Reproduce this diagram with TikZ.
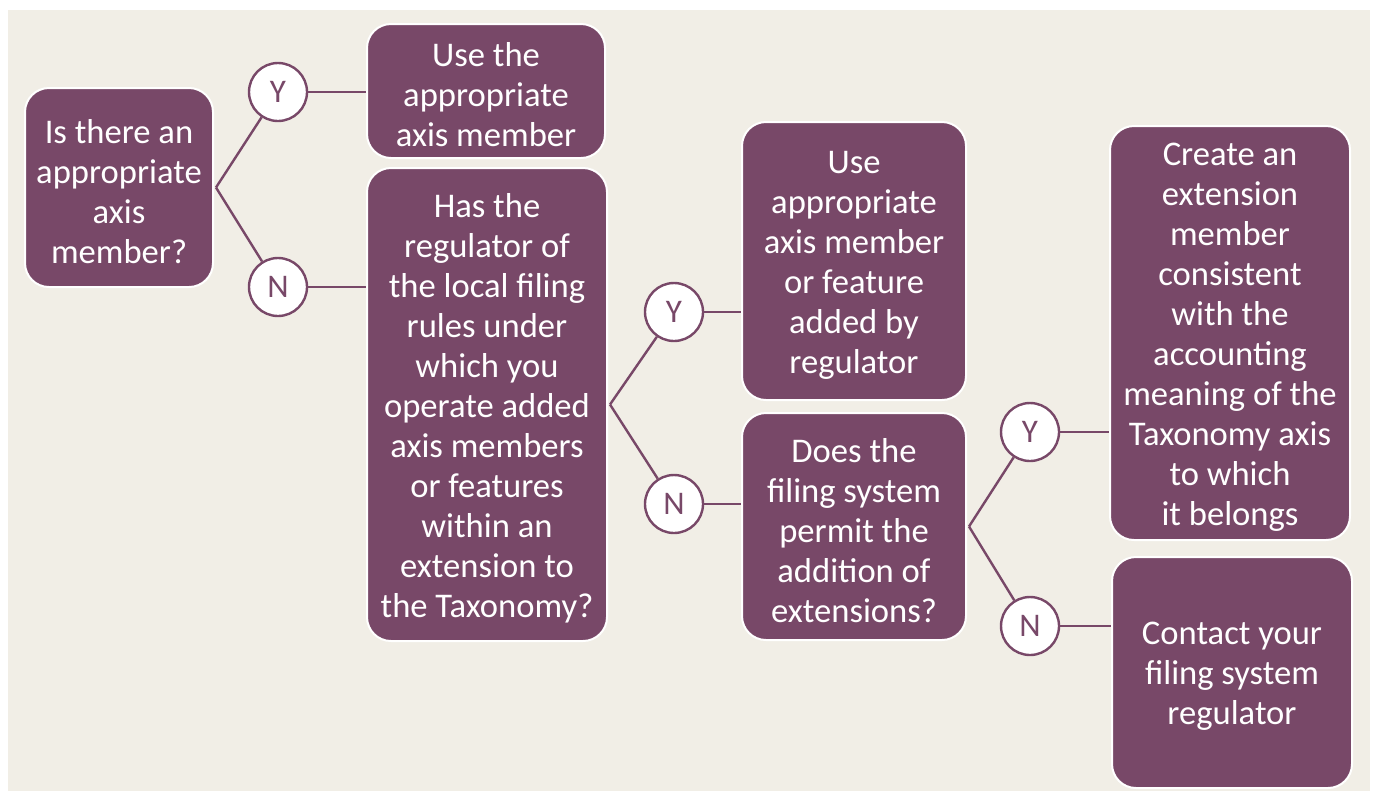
\documentclass[tikz,border=0pt]{standalone}
\usepackage{fontspec}
\setmainfont{Carlito}
\definecolor{bgc}{HTML}{F1EEE6}
\definecolor{plum}{HTML}{784868}
\tikzset{
  qbox/.style={draw=white, line width=1pt, fill=plum, rounded corners=12pt,
    inner sep=0pt},
  qtext/.style={text=white, align=center, inner sep=0pt,
    font=\fontsize{17.3}{20}\selectfont},
  yn/.style={circle, draw=plum, line width=1.2pt, fill=white, text=plum,
    minimum size=29pt, inner sep=0pt, font=\fontsize{16.5}{19}\selectfont},
  link/.style={draw=plum, line width=1.2pt}
}
\begin{document}
\begin{tikzpicture}[x=0.5pt,y=-0.5pt]
\useasboundingbox (0,0) rectangle (1375,794);
\fill[bgc] (8,10) rectangle (1370,791);
\node[qbox, minimum width=94pt, minimum height=99.5pt] (b1) at (119,187.5) {};
\node[qtext] (t1) at ([yshift=-2pt]b1.center)
  {Is there an\\appropriate\\axis\\member?};
\node[qbox, minimum width=119pt, minimum height=67pt] (b2) at (486,91) {};
\node[qtext] (t2) at ([yshift=-2pt]b2.center)
  {Use the\\appropriate\\axis member};
\node[qbox, minimum width=120pt, minimum height=236.5pt] (b3) at (487,404.5) {};
\node[qtext] (t3) at ([yshift=-2pt]b3.center)
  {Has the\\regulator of\\the local filing\\rules under\\which you\\operate added\\axis members\\or features\\within an\\extension to\\the Taxonomy?};
\node[qbox, minimum width=112pt, minimum height=139pt] (b4) at (854,261) {};
\node[qtext] (t4) at ([yshift=-2pt]b4.center)
  {Use\\appropriate\\axis member\\or feature\\added by\\regulator};
\node[qbox, minimum width=112pt, minimum height=113.5pt] (b5) at (854,526.5) {};
\node[qtext] (t5) at ([yshift=-2pt]b5.center)
  {Does the\\filing system\\permit the\\addition of\\extensions?};
\node[qbox, minimum width=120pt, minimum height=207pt] (b6) at (1230,333) {};
\node[qtext] (t6) at ([yshift=-2pt]b6.center)
  {Create an\\extension\\member\\consistent\\with the\\accounting\\meaning of the\\Taxonomy axis\\to which\\it belongs};
\node[qbox, minimum width=120pt, minimum height=115.5pt] (b7) at (1232,672.5) {};
\node[qtext] (t7) at ([yshift=-2pt]b7.center)
  {Contact your\\filing system\\regulator};
\node[yn] (y1) at (278,92) {Y};
\node[yn] (n1) at (278,287) {N};
\node[yn] (y2) at (674,312) {Y};
\node[yn] (n2) at (674,504) {N};
\node[yn] (y3) at (1030,432) {Y};
\node[yn] (n3) at (1030,626) {N};
\coordinate (p1) at ([xshift=1pt]b1.east);
\coordinate (p2) at ([xshift=1pt]b3.east);
\coordinate (p3) at ([xshift=1pt]b5.east);
\draw[link] (p1) -- (y1);
\draw[link] (p1) -- (n1);
\draw[link] (y1) -- (y1 -| b2.west);
\draw[link] (n1) -- (n1 -| b3.west);
\draw[link] (p2) -- (y2);
\draw[link] (p2) -- (n2);
\draw[link] (y2) -- (y2 -| b4.west);
\draw[link] (n2) -- (n2 -| b5.west);
\draw[link] (p3) -- (y3);
\draw[link] (p3) -- (n3);
\draw[link] (y3) -- (y3 -| b6.west);
\draw[link] (n3) -- (n3 -| b7.west);
\end{tikzpicture}
\end{document}
